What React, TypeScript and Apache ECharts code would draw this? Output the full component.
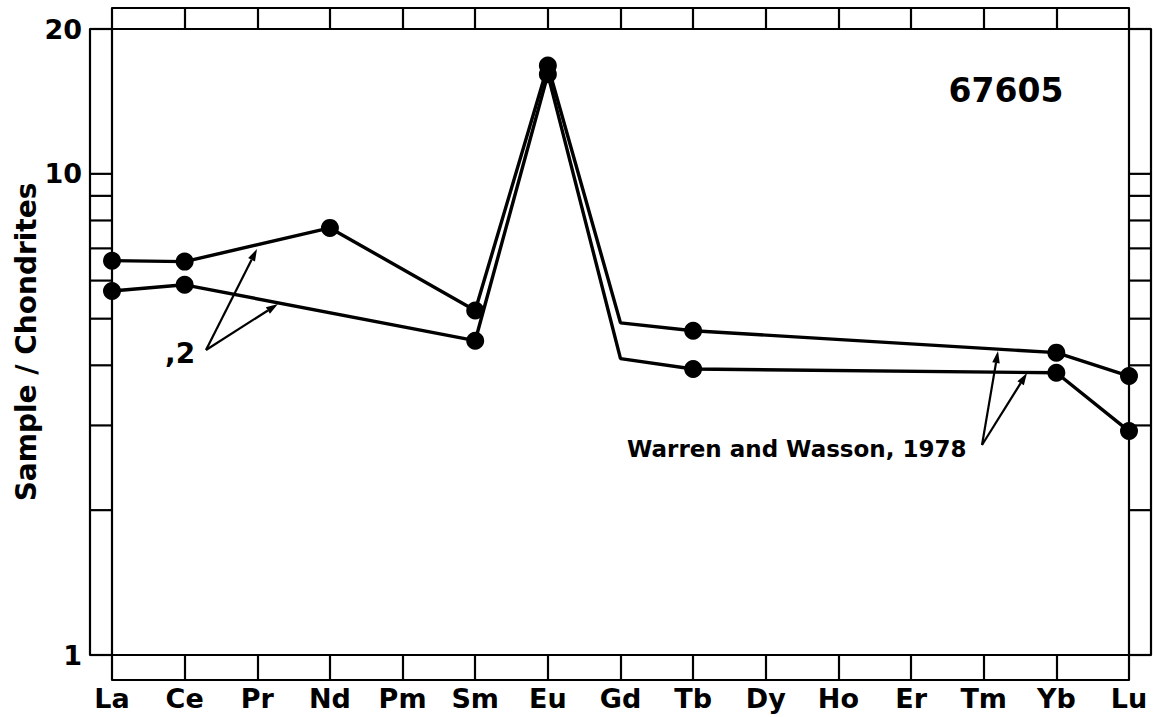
import React, { useEffect, useRef } from "react";
import * as echarts from "echarts";

const categories = ["La", "Ce", "Pr", "Nd", "Pm", "Sm", "Eu", "Gd", "Tb", "Dy", "Ho", "Er", "Tm", "Yb", "Lu"];
const upperValues: (number | null)[] = [6.6, 6.57, null, 7.72, null, 5.2, 16.8, 4.9, 4.72, null, null, null, null, 4.25, 3.8];
const lowerValues: (number | null)[] = [5.71, 5.88, null, null, null, 4.5, 16.1, 4.13, 3.93, null, null, null, null, 3.86, 2.92];
const unmarkedIndex = 7; // Gd: line bend without a dot
const stripTickValues = [1, 2, 3, 4, 5, 6, 7, 8, 9, 10, 20];
const yAxisName = "Sample / Chondrites";
const titleText = "67605";
const noteSplit = ",2";
const noteRef = "Warren and Wasson, 1978";

const FONT = '"DejaVu Sans", "Liberation Sans", sans-serif';

function arrow(x1: number, y1: number, x2: number, y2: number) {
  const dx = x2 - x1;
  const dy = y2 - y1;
  const len = Math.sqrt(dx * dx + dy * dy);
  const ux = dx / len;
  const uy = dy / len;
  const hl = 12;
  const hw = 3.8;
  const bx = x2 - ux * hl;
  const by = y2 - uy * hl;
  return [
    {
      type: "line",
      shape: { x1, y1, x2: bx, y2: by },
      style: { stroke: "#000", lineWidth: 2.2 },
      silent: true,
    },
    {
      type: "polygon",
      shape: {
        points: [
          [x2, y2],
          [bx - uy * hw, by + ux * hw],
          [bx + uy * hw, by - ux * hw],
        ],
      },
      style: { fill: "#000" },
      silent: true,
    },
  ];
}

function toSeriesData(vals: (number | null)[]) {
  return vals.map((v, i) =>
    v === null ? null : i === unmarkedIndex ? { value: v, symbol: "none" } : v
  );
}

export default function App() {
  const ref = useRef<HTMLDivElement>(null);
  useEffect(() => {
    document.body.style.margin = "0";
    if (!ref.current) return;
    const chart = echarts.init(ref.current, undefined, { renderer: "svg" });
    const axisLine = { show: true, lineStyle: { color: "#000", width: 2.2 } };
    const hidden = { show: false };
    const option: any = {
      animation: false,
      backgroundColor: "#fff",
      grid: { left: 112, right: 24, top: 29, bottom: 62, containLabel: false, outerBoundsMode: "none" },
      xAxis: [
        {
          type: "category",
          data: categories,
          boundaryGap: false,
          position: "bottom",
          axisLine,
          axisTick: { show: true, length: 25, interval: 0, lineStyle: { color: "#000", width: 2.2 } },
          axisLabel: {
            interval: 0,
            margin: 30,
            color: "#000",
            fontSize: 27,
            fontWeight: "bold",
            fontFamily: FONT,
          },
          splitLine: hidden,
        },
        {
          type: "category",
          data: categories,
          boundaryGap: false,
          position: "bottom",
          offset: 25,
          axisLine,
          axisTick: hidden,
          axisLabel: hidden,
          splitLine: hidden,
        },
        {
          type: "category",
          data: categories,
          boundaryGap: false,
          position: "top",
          axisLine,
          axisTick: { show: true, length: 21, interval: 0, lineStyle: { color: "#000", width: 2.2 } },
          axisLabel: hidden,
          splitLine: hidden,
        },
        {
          type: "category",
          data: categories,
          boundaryGap: false,
          position: "top",
          offset: 21,
          axisLine,
          axisTick: hidden,
          axisLabel: hidden,
          splitLine: hidden,
        },
      ],
      yAxis: [
        {
          type: "log",
          logBase: 10,
          min: 1,
          max: 20,
          position: "left",
          axisLine,
          axisTick: hidden,
          axisLabel: hidden,
          splitLine: hidden,
          minorTick: hidden,
        },
        {
          type: "log",
          logBase: 10,
          min: 1,
          max: 20,
          position: "left",
          offset: 22,
          axisLine,
          axisTick: hidden,
          splitLine: hidden,
          axisLabel: {
            show: true,
            margin: 8,
            color: "#000",
            fontSize: 27,
            fontWeight: "bold",
            fontFamily: FONT,
            formatter: (v: number) => String(Math.round(v)),
          },
          name: yAxisName,
          nameLocation: "middle",
          nameGap: 50,
          nameMoveOverlap: false,
          nameTextStyle: { color: "#000", fontSize: 28, fontWeight: "bold", fontFamily: FONT },
        },
        {
          type: "log",
          logBase: 10,
          min: 1,
          max: 20,
          position: "right",
          axisLine,
          axisTick: hidden,
          axisLabel: hidden,
          splitLine: hidden,
        },
        {
          type: "log",
          logBase: 10,
          min: 1,
          max: 20,
          position: "right",
          offset: 22,
          axisLine,
          axisTick: hidden,
          axisLabel: hidden,
          splitLine: hidden,
        },
      ],
      series: [
        {
          type: "custom",
          xAxisIndex: 0,
          yAxisIndex: 0,
          silent: true,
          data: stripTickValues.map((v) => [0, v]),
          renderItem: (params: any, api: any) => {
            const p = api.coord([0, api.value(1)]);
            const cs = params.coordSys;
            return {
              type: "group",
              children: [
                {
                  type: "line",
                  shape: { x1: cs.x - 22, y1: p[1], x2: cs.x, y2: p[1] },
                  style: { stroke: "#000", lineWidth: 2.2 },
                },
                {
                  type: "line",
                  shape: { x1: cs.x + cs.width, y1: p[1], x2: cs.x + cs.width + 22, y2: p[1] },
                  style: { stroke: "#000", lineWidth: 2.2 },
                },
              ],
            };
          },
        },
        {
          type: "line",
          name: "upper",
          data: toSeriesData(upperValues),
          connectNulls: true,
          clip: false,
          showAllSymbol: true,
          symbol: "circle",
          symbolSize: 18,
          itemStyle: { color: "#000" },
          lineStyle: { color: "#000", width: 3.4 },
          z: 5,
        },
        {
          type: "line",
          name: "lower",
          data: toSeriesData(lowerValues),
          connectNulls: true,
          clip: false,
          showAllSymbol: true,
          symbol: "circle",
          symbolSize: 18,
          itemStyle: { color: "#000" },
          lineStyle: { color: "#000", width: 3.4 },
          z: 5,
        },
      ],
      graphic: [
        {
          type: "text",
          x: 1006,
          y: 90,
          style: {
            text: titleText,
            align: "center",
            verticalAlign: "middle",
            fontSize: 33,
            fontWeight: "bold",
            fontFamily: FONT,
            fill: "#000",
          },
        },
        {
          type: "text",
          x: 165,
          y: 353,
          style: {
            text: noteSplit,
            align: "left",
            verticalAlign: "middle",
            fontSize: 28,
            fontWeight: "bold",
            fontFamily: FONT,
            fill: "#000",
          },
        },
        {
          type: "text",
          x: 627,
          y: 449,
          style: {
            text: noteRef,
            align: "left",
            verticalAlign: "middle",
            fontSize: 23,
            fontWeight: "bold",
            fontFamily: FONT,
            fill: "#000",
          },
        },
        ...arrow(206, 350, 257, 249),
        ...arrow(206, 350, 278, 304),
        ...arrow(982, 445, 998, 351),
        ...arrow(982, 445, 1027, 373),
      ],
    };
    chart.setOption(option);
    return () => chart.dispose();
  }, []);
  return (
    <div
      ref={ref}
      style={{ position: "absolute", left: 0, top: 0, width: 1153, height: 717 }}
    />
  );
}
